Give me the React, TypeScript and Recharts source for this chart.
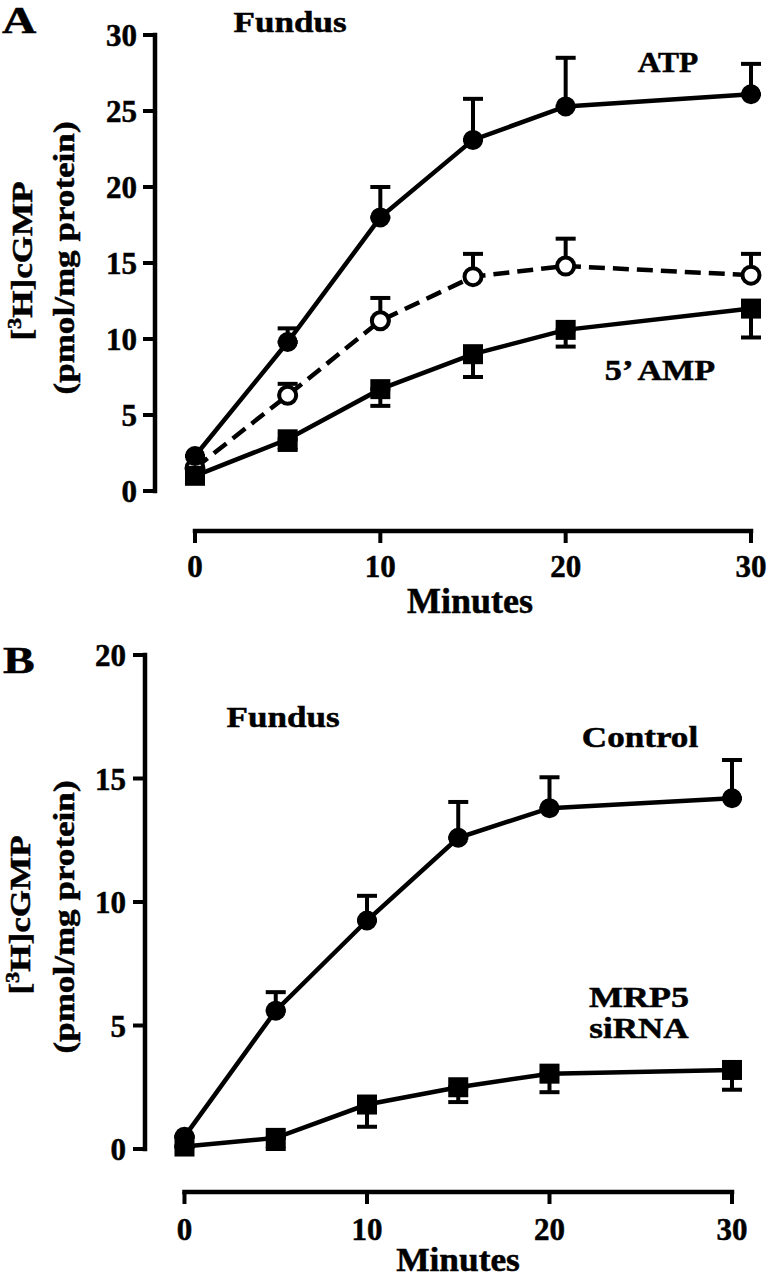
import React from 'react';
import { LineChart, Line, XAxis, YAxis, ErrorBar, ReferenceLine } from 'recharts';

const SERIF = "'Liberation Serif', 'Times New Roman', serif";

const minutes = [0, 5, 10, 15, 20, 30];
const xTicks = [0, 10, 20, 30];

// Panel A: ATP, dashed (open circles), 5' AMP
const atpMean = [2.3, 9.8, 18.0, 23.1, 25.3, 26.1];
const atpSemUp = [0, 0.9, 2.0, 2.7, 3.2, 2.0];
const openMean = [1.5, 6.3, 11.2, 14.1, 14.8, 14.2];
const openSemUp = [0, 0.75, 1.5, 1.5, 1.8, 1.4];
const ampMean = [1.0, 3.4, 6.7, 9.0, 10.6, 12.0];
const ampSemDown = [0, 0.7, 1.1, 1.5, 1.1, 1.9];
const yTicksA = [0, 5, 10, 15, 20, 25, 30];

// Panel B: Control, MRP5 siRNA
const controlMean = [0.5, 5.6, 9.25, 12.6, 13.8, 14.2];
const controlSemUp = [0, 0.75, 1.0, 1.45, 1.25, 1.55];
const sirnaMean = [0.1, 0.45, 1.8, 2.5, 3.05, 3.2];
const sirnaSemDown = [0, 0.45, 0.9, 0.6, 0.75, 0.8];
const yTicksB = [0, 5, 10, 15, 20];

const dataA = minutes.map((m, i) => ({
  min: m,
  atp: atpMean[i],
  atpErr: [0, atpSemUp[i]],
  open: openMean[i],
  openErr: [0, openSemUp[i]],
  amp: ampMean[i],
  ampErr: [ampSemDown[i], 0],
}));

const dataB = minutes.map((m, i) => ({
  min: m,
  control: controlMean[i],
  controlErr: [0, controlSemUp[i]],
  sirna: sirnaMean[i],
  sirnaErr: [sirnaSemDown[i], 0],
}));

// axis domains extend past 0 so the detached Prism-style axes sit apart
const X_MIN_A = -2.158;
const Y_MIN_A = -2.632;
const X_MIN_B = -2.164;
const Y_MIN_B = -1.741;

const tickStyle = { fill: '#000', stroke: '#000', strokeWidth: 0.5, fontSize: 31, fontWeight: 'bold', fontFamily: SERIF };
const tickLine = { stroke: '#000', strokeWidth: 4 };

const FilledDot = (p: any) => (
  <circle key={p.index} cx={p.cx} cy={p.cy} r={8.5} fill="#000" stroke="#000" strokeWidth={3} />
);
const OpenDot = (p: any) => (
  <circle key={p.index} cx={p.cx} cy={p.cy} r={8.5} fill="#fff" stroke="#000" strokeWidth={4} />
);
const SquareDot = (p: any) => (
  <rect key={p.index} x={p.cx - 8.5} y={p.cy - 8.5} width={17} height={17} fill="#000" stroke="#000" strokeWidth={3} />
);

function Label({ x, y, size = 30, sx = 1.17, anchor = 'middle', rotate = 0, children }: any) {
  return (
    <text
      transform={`translate(${x},${y}) rotate(${rotate}) scale(${sx},1)`}
      textAnchor={anchor}
      fontSize={size}
      fontWeight="bold"
      fontFamily={SERIF}
      fill="#000"
      stroke="#000"
      strokeWidth={0.5}
    >
      {children}
    </text>
  );
}

function Err({ k }: { k: string }) {
  return <ErrorBar dataKey={k} width={10} strokeWidth={4} stroke="#000" direction="y" isAnimationActive={false} />;
}

export default function App() {
  return (
    <div style={{ position: 'absolute', left: 0, top: 0, width: 768, height: 1280, background: '#fff', overflow: 'hidden' }}>
      <div style={{ position: 'absolute', left: 0, top: 0 }}>
        <LineChart width={768} height={640} data={dataA} margin={{ top: 35, right: 17, bottom: 69, left: 95 }}>
          <XAxis
            dataKey="min"
            type="number"
            domain={[X_MIN_A, 30]}
            ticks={xTicks}
            interval={0}
            axisLine={false}
            tickLine={tickLine}
            tickSize={12}
            tickMargin={12}
            tick={tickStyle}
            height={40}
          />
          <YAxis
            type="number"
            domain={[Y_MIN_A, 30]}
            ticks={yTicksA}
            interval={0}
            axisLine={false}
            tickLine={tickLine}
            tickSize={12}
            tickMargin={6}
            tick={tickStyle}
            width={60}
          />
          <ReferenceLine segment={[{ x: X_MIN_A, y: 0 }, { x: X_MIN_A, y: 30 }]} stroke="#000" strokeWidth={4.5} strokeLinecap="square" ifOverflow="visible" />
          <ReferenceLine segment={[{ x: 0, y: Y_MIN_A }, { x: 30, y: Y_MIN_A }]} stroke="#000" strokeWidth={4.5} strokeLinecap="square" ifOverflow="visible" />
          <Line dataKey="open" type="linear" stroke="#000" strokeWidth={4.5} strokeDasharray="16 8" dot={OpenDot} activeDot={false} isAnimationActive={false}>
            <Err k="openErr" />
          </Line>
          <Line dataKey="amp" type="linear" stroke="#000" strokeWidth={4.5} dot={SquareDot} activeDot={false} isAnimationActive={false}>
            <Err k="ampErr" />
          </Line>
          <Line dataKey="atp" type="linear" stroke="#000" strokeWidth={4.5} dot={FilledDot} activeDot={false} isAnimationActive={false}>
            <Err k="atpErr" />
          </Line>
        </LineChart>
      </div>

      <div style={{ position: 'absolute', left: 0, top: 600 }}>
        <LineChart width={768} height={680} data={dataB} margin={{ top: 55, right: 36, bottom: 48, left: 85 }}>
          <XAxis
            dataKey="min"
            type="number"
            domain={[X_MIN_B, 30]}
            ticks={xTicks}
            interval={0}
            axisLine={false}
            tickLine={tickLine}
            tickSize={12}
            tickMargin={14}
            tick={tickStyle}
            height={40}
          />
          <YAxis
            type="number"
            domain={[Y_MIN_B, 20]}
            ticks={yTicksB}
            interval={0}
            axisLine={false}
            tickLine={tickLine}
            tickSize={12}
            tickMargin={7}
            tick={tickStyle}
            width={60}
          />
          <ReferenceLine segment={[{ x: X_MIN_B, y: 0 }, { x: X_MIN_B, y: 20 }]} stroke="#000" strokeWidth={4.5} strokeLinecap="square" ifOverflow="visible" />
          <ReferenceLine segment={[{ x: 0, y: Y_MIN_B }, { x: 30, y: Y_MIN_B }]} stroke="#000" strokeWidth={4.5} strokeLinecap="square" ifOverflow="visible" />
          <Line dataKey="sirna" type="linear" stroke="#000" strokeWidth={4.5} dot={SquareDot} activeDot={false} isAnimationActive={false}>
            <Err k="sirnaErr" />
          </Line>
          <Line dataKey="control" type="linear" stroke="#000" strokeWidth={4.5} dot={FilledDot} activeDot={false} isAnimationActive={false}>
            <Err k="controlErr" />
          </Line>
        </LineChart>
      </div>

      <svg width={768} height={1280} style={{ position: 'absolute', left: 0, top: 0, pointerEvents: 'none' }}>
        {/* panel A */}
        <Label x={2} y={33} size={38} sx={1.25} anchor="start">A</Label>
        <Label x={290} y={32}>Fundus</Label>
        <Label x={668} y={72} sx={1.05}>ATP</Label>
        <Label x={660} y={380} sx={1.14}>5’ AMP</Label>
        <Label x={470} y={613} size={36} sx={1}>Minutes</Label>
        <Label x={32} y={261} rotate={-90}>
          [<tspan dy={-11} fontSize={19}>3</tspan>
          <tspan dy={11}>H]cGMP</tspan>
        </Label>
        <Label x={74} y={258} rotate={-90}>(pmol/mg protein)</Label>

        {/* panel B */}
        <Label x={3} y={673} size={38} sx={1.25} anchor="start">B</Label>
        <Label x={283} y={727}>Fundus</Label>
        <Label x={640} y={747}>Control</Label>
        <Label x={639} y={1007} sx={1.2}>MRP5</Label>
        <Label x={639} y={1038}>siRNA</Label>
        <Label x={458} y={1271} size={34} sx={1.04}>Minutes</Label>
        <Label x={30} y={915} rotate={-90}>
          [<tspan dy={-11} fontSize={19}>3</tspan>
          <tspan dy={11}>H]cGMP</tspan>
        </Label>
        <Label x={74} y={917} rotate={-90}>(pmol/mg protein)</Label>
      </svg>
    </div>
  );
}
